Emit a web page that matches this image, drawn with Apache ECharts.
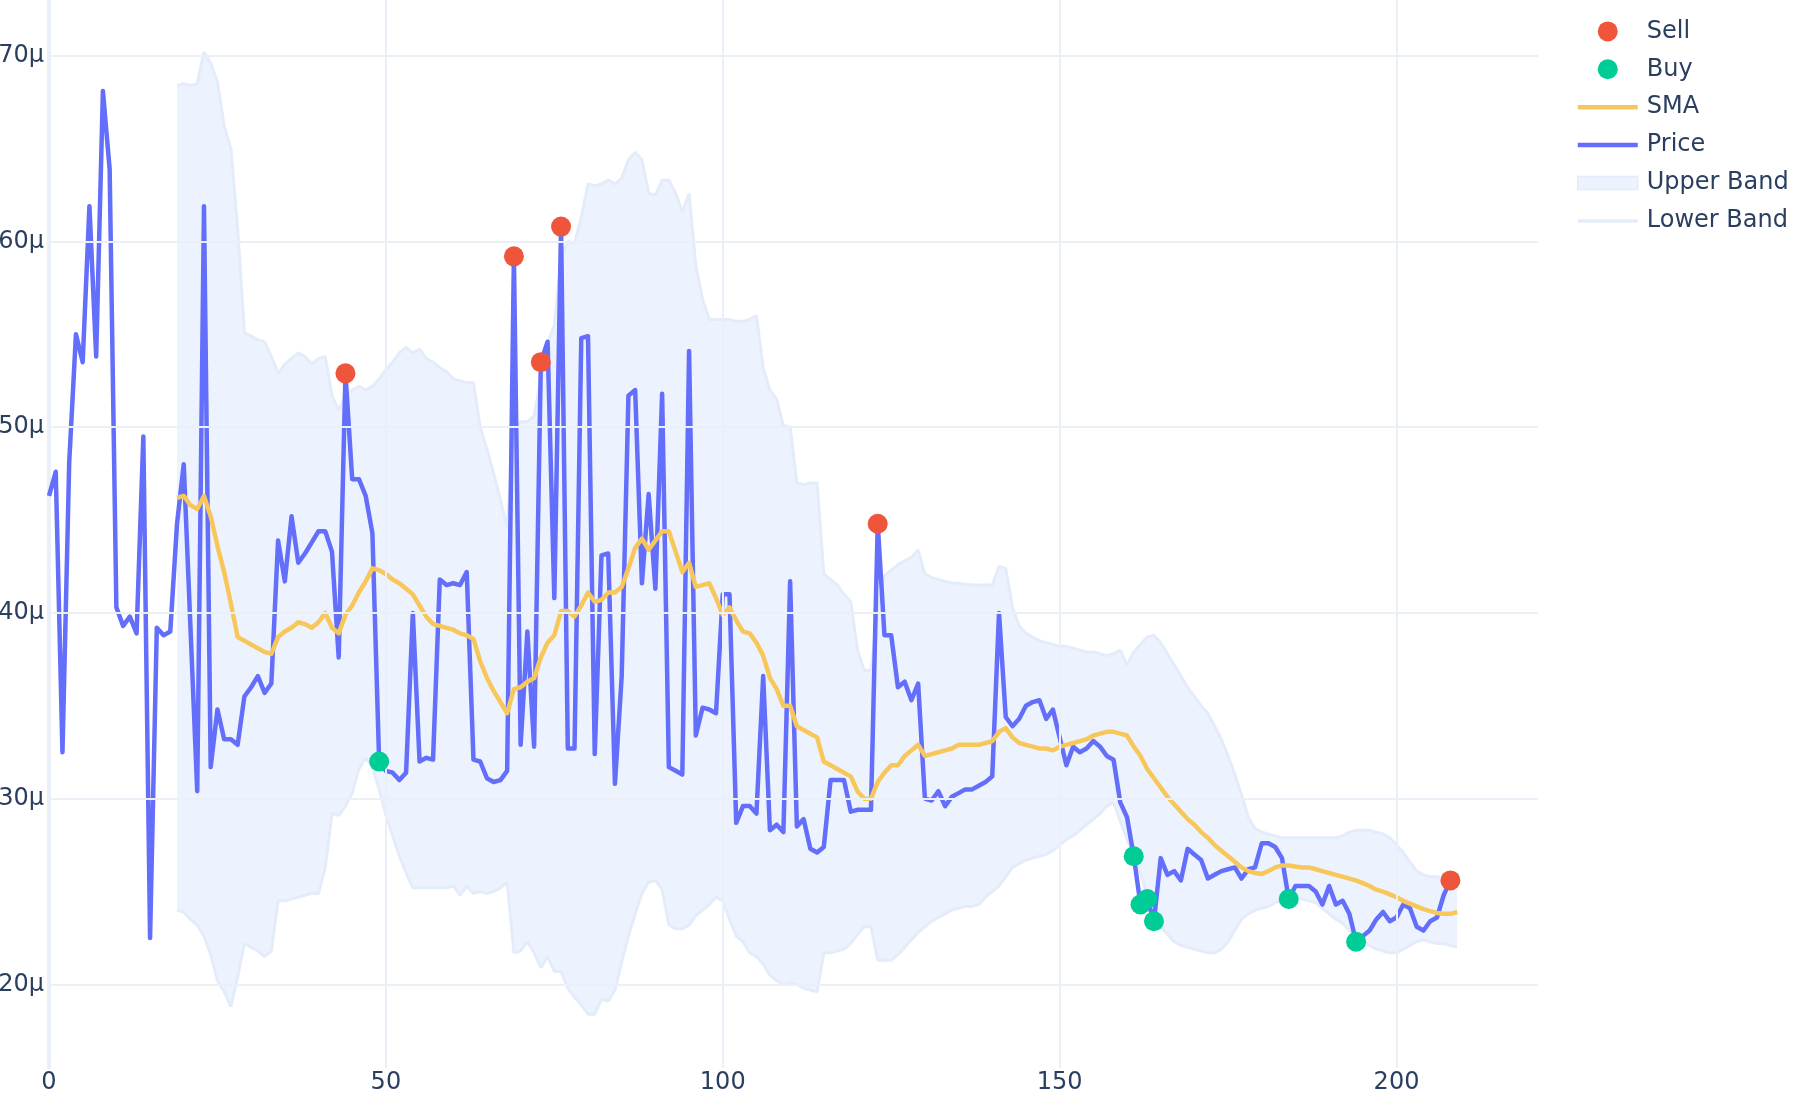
<!DOCTYPE html>
<html><head><meta charset="utf-8">
<script src="https://cdn.jsdelivr.net/npm/echarts@6/dist/echarts.min.js"></script>
<style>html,body{margin:0;padding:0;background:#fff}#c{width:1800px;height:1100px}</style>
</head><body><div id="c"></div>
<script>
// Price (µ), index 0..208
const price = [
46.3,47.6,32.5,48.1,55.0,53.5,61.9,53.8,68.1,63.9,
40.3,39.3,39.8,38.9,49.5,22.5,39.2,38.8,39.0,44.8,
48.0,39.2,30.4,61.9,31.7,34.8,33.2,33.2,32.9,35.5,
36.0,36.6,35.7,36.2,43.9,41.7,45.2,42.7,43.2,43.8,
44.4,44.4,43.3,37.6,52.9,47.2,47.2,46.3,44.3,32.0,
31.5,31.4,31.0,31.4,40.0,32.0,32.2,32.1,41.8,41.5,
41.6,41.5,42.2,32.1,32.0,31.1,30.9,31.0,31.5,59.2,
32.9,39.0,32.8,53.5,54.6,40.8,60.8,32.7,32.7,54.8,
54.9,32.4,43.1,43.2,30.8,36.6,51.7,52.0,41.6,46.4,
41.3,51.8,31.7,31.5,31.3,54.1,33.4,34.9,34.8,34.6,
41.0,41.0,28.7,29.6,29.6,29.2,36.6,28.3,28.6,28.2,
41.7,28.5,28.9,27.3,27.1,27.4,31.0,31.0,31.0,29.3,
29.4,29.4,29.4,44.8,38.8,38.8,36.0,36.3,35.3,36.2,
30.0,29.9,30.4,29.6,30.1,30.3,30.5,30.5,30.7,30.9,
31.2,40.0,34.4,33.9,34.3,35.0,35.2,35.3,34.3,34.8,
33.3,31.8,32.8,32.5,32.7,33.1,32.8,32.3,32.1,29.8,
29.0,26.9,24.3,24.6,23.4,26.8,25.9,26.1,25.6,27.3,
27.0,26.7,25.7,25.9,26.1,26.2,26.3,25.7,26.2,26.3,
27.6,27.6,27.4,26.8,24.6,25.3,25.3,25.3,25.0,24.3,
25.3,24.3,24.5,23.8,22.3,22.6,22.9,23.5,23.9,23.4,
23.6,24.3,24.1,23.1,22.9,23.4,23.6,24.8,25.6
];
// Rolling series start at index 19, run to 209
const bandStart = 19;
const sma = [
46.2,
46.3,45.8,45.6,46.3,45.2,43.6,42.2,40.5,38.7,38.5,
38.3,38.1,37.9,37.8,38.7,39.0,39.2,39.5,39.4,39.2,
39.5,40.0,39.2,38.9,39.9,40.4,41.1,41.7,42.4,42.3,
42.1,41.8,41.6,41.3,41.0,40.4,39.8,39.4,39.3,39.2,
39.1,38.9,38.8,38.6,37.4,36.5,35.8,35.2,34.6,35.9,
36.0,36.3,36.5,37.6,38.4,38.8,40.1,40.1,39.8,40.4,
41.1,40.6,40.7,41.1,41.1,41.4,42.4,43.5,44.0,43.4,
43.9,44.4,44.4,43.3,42.2,42.7,41.4,41.5,41.6,40.8,
39.9,40.3,39.6,39.0,38.9,38.4,37.7,36.5,35.9,35.0,
35.0,33.9,33.7,33.5,33.3,32.0,31.8,31.6,31.4,31.2,
30.4,30.0,30.0,30.9,31.4,31.8,31.8,32.3,32.6,32.9,
32.3,32.4,32.5,32.6,32.7,32.9,32.9,32.9,32.9,33.0,
33.1,33.6,33.8,33.3,33.0,32.9,32.8,32.7,32.7,32.6,
32.8,32.9,33.0,33.1,33.2,33.4,33.5,33.6,33.6,33.5,
33.4,32.8,32.3,31.6,31.1,30.6,30.1,29.7,29.3,28.9,
28.6,28.2,27.9,27.5,27.2,26.9,26.6,26.3,26.1,26.0,
25.95,26.1,26.3,26.4,26.4,26.35,26.3,26.3,26.2,26.1,
26.0,25.9,25.8,25.7,25.6,25.45,25.3,25.1,25.0,24.85,
24.7,24.5,24.35,24.2,24.05,23.95,23.85,23.8,23.8,23.9
];
const upper = [
68.4,
68.5,68.4,68.5,70.2,69.6,68.6,66.2,65.0,60.7,55.1,
54.9,54.7,54.6,53.8,52.9,53.4,53.7,54.0,53.8,53.4,
53.7,53.8,51.7,50.9,51.7,52.0,52.2,52.0,52.2,52.6,
53.1,53.5,54.0,54.3,54.0,54.2,53.7,53.5,53.2,53.0,
52.6,52.5,52.4,52.4,50.0,48.8,47.5,46.1,44.6,49.8,
50.3,50.3,50.6,52.6,54.5,55.5,59.1,60.0,59.9,61.3,
63.1,63.0,63.1,63.3,63.1,63.4,64.4,64.8,64.4,62.6,
62.5,63.3,63.3,62.6,61.6,62.6,58.7,56.9,55.8,55.8,
55.8,55.8,55.7,55.7,55.8,56.0,53.2,52.0,51.5,50.1,
50.0,47.0,46.9,47.0,47.0,42.1,41.8,41.5,41.0,40.6,
38.0,36.9,36.9,40.2,42.0,42.3,42.6,42.8,43.0,43.4,
42.1,41.9,41.8,41.7,41.6,41.6,41.55,41.5,41.5,41.5,
41.5,42.5,42.4,40.3,39.3,38.9,38.7,38.5,38.4,38.3,
38.2,38.2,38.1,38.0,37.9,37.9,37.8,37.7,37.8,38.0,
37.2,37.9,38.3,38.7,38.8,38.4,37.8,37.2,36.6,36.0,
35.5,35.0,34.6,33.9,33.2,32.3,31.3,30.2,29.0,28.4,
28.2,28.1,28.0,27.9,27.9,27.9,27.9,27.9,27.9,27.9,
27.9,27.9,28.0,28.2,28.3,28.3,28.3,28.2,28.1,27.9,
27.5,27.1,26.6,26.1,25.9,25.8,25.8,25.7,25.6,25.4
];
const lower = [
24.0,
23.9,23.5,23.2,22.6,21.6,20.2,19.6,18.8,20.4,22.2,
22.0,21.8,21.5,21.8,24.5,24.5,24.6,24.7,24.8,24.9,
24.9,26.3,29.2,29.1,29.6,30.3,31.6,32.2,31.7,30.5,
29.1,28.0,26.9,26.0,25.2,25.2,25.2,25.2,25.2,25.2,
25.3,24.8,25.3,24.9,25.0,24.9,25.0,25.2,25.5,21.7,
21.8,22.3,21.7,20.9,21.5,20.7,20.7,19.8,19.3,18.9,
18.4,18.4,19.2,19.1,19.7,21.2,22.6,23.8,24.9,25.5,
25.6,25.1,23.2,23.0,23.0,23.2,23.7,24.0,24.3,24.7,
24.5,23.5,22.6,22.3,21.7,21.5,21.1,20.5,20.2,20.0,
20.1,20.0,19.8,19.7,19.6,21.7,21.7,21.8,21.9,22.2,
22.7,23.1,23.1,21.3,21.3,21.3,21.6,22.0,22.4,22.8,
23.1,23.4,23.6,23.8,24.0,24.1,24.2,24.2,24.3,24.7,
25.0,25.3,25.8,26.3,26.5,26.7,26.8,26.9,27.0,27.2,
27.5,27.8,28.0,28.3,28.6,28.9,29.2,29.6,29.8,28.8,
27.8,27.0,26.0,24.8,23.9,23.1,22.7,22.3,22.1,22.0,
21.9,21.8,21.7,21.7,21.9,22.3,22.9,23.5,23.8,24.0,
24.1,24.2,24.4,24.5,24.6,24.7,24.6,24.5,24.4,24.1,
23.8,23.5,23.3,22.9,22.6,22.4,22.1,21.9,21.8,21.7,
21.7,21.9,22.1,22.3,22.4,22.3,22.2,22.2,22.1,22.0
];
const sellIdx = [44, 69, 73, 76, 123, 208];
const buyIdx = [49, 161, 162, 163, 164, 184, 194];
const xTicks = [0, 50, 100, 150, 200];
const yTicks = [20, 30, 40, 50, 60, 70];

const FONT = 'DejaVu Sans';
const TXT = '#2a3f5f';
const GRID = '#EBF0F8';
const BAND_FILL = '#EDF3FE';
const BAND_LINE = '#E4ECFA';

const pricePts = price.map((v, i) => [i, v]);
const smaPts = sma.map((v, i) => [i + bandStart, v]);
const lowerPts = lower.map((v, i) => [i + bandStart, v]);
const upperPts = upper.map((v, i) => [i + bandStart, v]);
const sellPts = sellIdx.map(i => [i, price[i]]);
const buyPts = buyIdx.map(i => [i, price[i]]);
const isTick = (v, arr) => arr.some(t => Math.abs(t - v) < 1e-6);

const gridLines = yTicks.map(v => ({ yAxis: v })).concat(xTicks.filter(v => v > 0).map(v => ({ xAxis: v })));

const chart = echarts.init(document.getElementById('c'));
chart.setOption({
  animation: false,
  backgroundColor: '#fff',
  grid: { left: 49, right: 262, top: 0, bottom: 32, containLabel: false, outerBoundsMode: 'none' },
  xAxis: {
    type: 'value', min: 0, max: 221, interval: 50,
    axisLine: { show: false }, axisTick: { show: false }, splitLine: { show: false },
    axisLabel: { fontSize: 24, color: TXT, fontFamily: FONT, margin: 3,
      formatter: v => isTick(v, xTicks) ? String(v) : '' }
  },
  yAxis: {
    type: 'value', min: 15.5, max: 73, interval: 0.5,
    axisLine: { show: true, lineStyle: { color: GRID, width: 4 } },
    axisTick: { show: false }, splitLine: { show: false },
    axisLabel: { fontSize: 24, color: TXT, fontFamily: FONT, margin: 5,
      formatter: v => isTick(v, yTicks) ? (Math.round(v) + 'µ') : '' }
  },
  legend: {
    orient: 'vertical', left: 1572, top: 14.4, itemWidth: 60, itemHeight: 20, itemGap: 13.9,
    selectedMode: false,
    textStyle: { fontSize: 24, color: TXT, fontFamily: FONT, padding: [0, 0, 0, 4] },
    data: [
      { name: 'Sell', icon: 'circle', itemStyle: { color: '#EF553B' } },
      { name: 'Buy', icon: 'circle', itemStyle: { color: '#00CC96' } },
      { name: 'SMA', icon: 'path://M0,0L60,0L60,4.5L0,4.5Z', itemStyle: { color: '#F7C75C', borderWidth: 0 } },
      { name: 'Price', icon: 'path://M0,0L60,0L60,4.5L0,4.5Z', itemStyle: { color: '#636EFA', borderWidth: 0 } },
      { name: 'Upper Band', icon: 'path://M0,0L60,0L60,13L0,13Z', itemStyle: { color: BAND_FILL, borderColor: BAND_LINE, borderWidth: 1.5 } },
      { name: 'Lower Band', icon: 'path://M0,0L60,0L60,3.5L0,3.5Z', itemStyle: { color: BAND_LINE, borderWidth: 0 } }
    ]
  },
  series: [
    {
      name: 'Upper Band', type: 'line', data: upperPts, z: 1,
      symbol: 'none', silent: true,
      lineStyle: { color: BAND_LINE, width: 3 },
      itemStyle: { color: BAND_FILL },
      areaStyle: { color: BAND_FILL, opacity: 1, origin: 'start' }
    },
    {
      name: 'Lower Band', type: 'line', data: lowerPts, z: 1,
      symbol: 'none', silent: true,
      lineStyle: { color: BAND_LINE, width: 3 },
      itemStyle: { color: BAND_LINE },
      areaStyle: { color: '#ffffff', opacity: 1, origin: 'start' }
    },
    {
      name: 'gridlines', type: 'line', data: [[0, 15.5]], z: 2,
      symbol: 'none', silent: true, lineStyle: { opacity: 0 },
      markLine: {
        silent: true, symbol: 'none', animation: false,
        label: { show: false },
        lineStyle: { color: GRID, width: 2, type: 'solid' },
        emphasis: { disabled: true },
        data: gridLines
      }
    },
    {
      name: 'Price', type: 'line', data: pricePts, z: 3, symbol: 'none',
      lineStyle: { color: '#636EFA', width: 4.5, join: 'round' },
      itemStyle: { color: '#636EFA' }
    },
    {
      name: 'SMA', type: 'line', data: smaPts, z: 4, symbol: 'none', smooth: false,
      lineStyle: { color: '#F7C75C', width: 4.5, join: 'round' },
      itemStyle: { color: '#F7C75C' }
    },
    {
      name: 'Buy', type: 'scatter', data: buyPts, z: 5, symbolSize: 20,
      itemStyle: { color: '#00CC96', opacity: 1 }
    },
    {
      name: 'Sell', type: 'scatter', data: sellPts, z: 5, symbolSize: 20,
      itemStyle: { color: '#EF553B', opacity: 1 }
    }
  ]
});
</script>
</body></html>
